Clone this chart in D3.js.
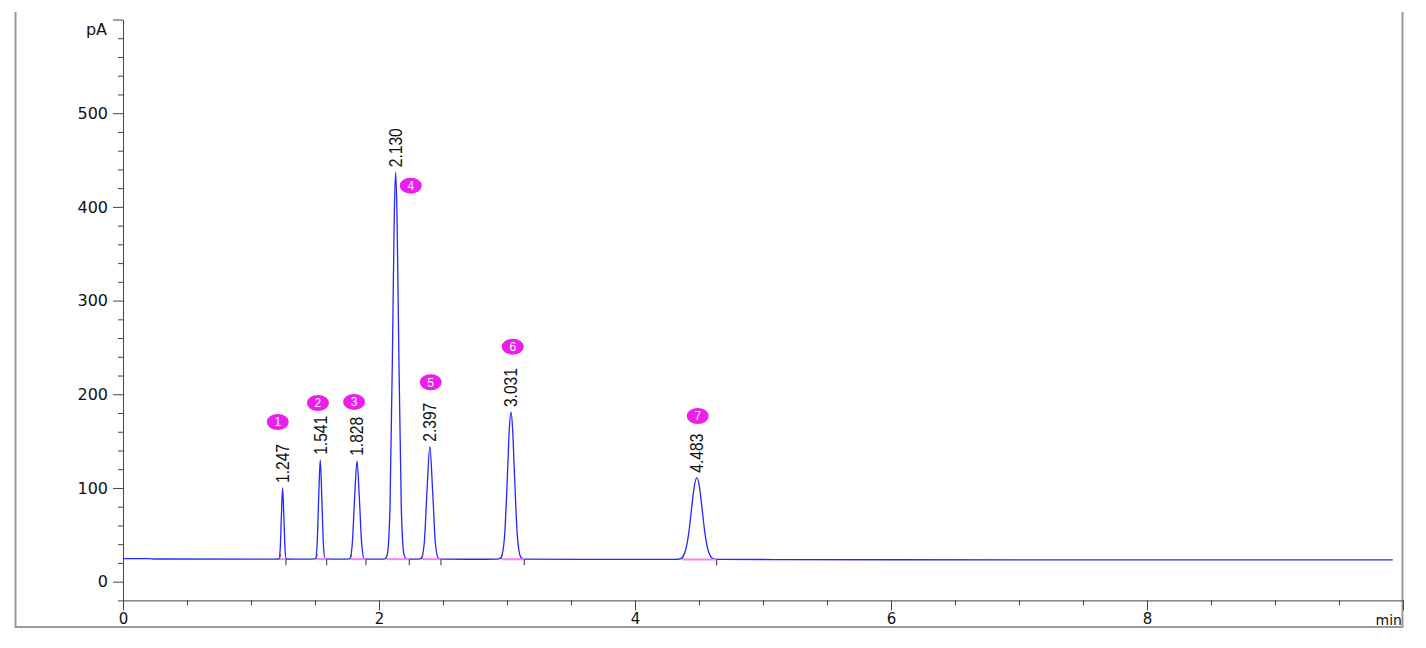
<!DOCTYPE html>
<html><head><meta charset="utf-8">
<script src="https://cdn.jsdelivr.net/npm/d3@7"></script>
<style>body{margin:0;background:#fff}svg{display:block}</style>
</head><body>
<svg id="c" width="1426" height="648"></svg>
<script>
// ---- data ----
const traceTimes = [0,0.2,0.25,1.15,
  1.2185,1.228,1.2375,1.247,1.2565,1.266,1.2755,1.40,
  1.5035,1.516,1.5285,1.541,1.5535,1.566,1.5785,1.70,
  1.771,1.790,1.809,1.828,1.847,1.866,1.885,1.95,
  2.042,2.064,2.086,2.108,2.119,2.130,2.141,2.152,2.174,2.196,2.218,
  2.309,2.331,2.353,2.375,2.397,2.419,2.441,2.463,2.485,2.70,
  2.927,2.953,2.979,3.005,3.018,3.031,3.044,3.057,3.083,3.109,3.135,3.6,
  4.315,4.357,4.378,4.399,4.42,4.441,4.462,4.483,4.504,4.525,4.546,4.567,4.588,4.609,4.651,6.0,9.92];
const traceValues = [24.6,24.6,24.2,24.0,
  24.2,34.3,70.1,100,70.1,34.3,24.2,24.0,
  24.4,38.3,88.3,130,88.3,38.3,24.4,24.0,
  24.4,38.2,87.7,129,87.7,38.2,24.4,24.0,
  24.1,28.6,79.9,274.5,388.5,437,388.5,274.5,79.9,28.6,24.1,
  24.1,25.3,40.2,96.8,144,96.8,40.2,25.3,24.1,23.9,
  24.0,25.7,45.1,119.1,162.6,181,162.6,119.1,45.1,25.7,24.0,23.7,
  23.8,24.7,27.5,35.5,52.0,76.6,100.7,111,100.7,76.6,52.0,35.5,27.5,24.7,23.8,23.4,23.2];

const peakNumbers = [1,2,3,4,5,6,7];
const peakTimes   = [1.247,1.541,1.828,2.130,2.397,3.031,4.483];
const peakApex    = [100,130,129,437,144,181,111];
const peakLabels  = ["1.247","1.541","1.828","2.130","2.397","3.031","4.483"];
const peakStarts  = [1.227,1.513,1.781,2.060,2.338,2.958,4.373];
const peakEnds    = [1.273,1.591,1.898,2.237,2.484,3.135,4.638];
const peakBase    = [24.0,24.0,24.0,24.0,24.0,23.9,23.7];
const badgeTimes  = [1.209,1.523,1.805,2.248,2.404,3.045,4.490];
const badgeLevels = [170.4,190.7,191.8,422.6,212.8,250.8,176.8];

const yMajorTicks = [0,100,200,300,400,500,600];
const xMajorTicks = [0,2,4,6,8,10];

// ---- drawing ----
const svg = d3.select("#c");
const x = d3.scaleLinear().domain([0,10]).range([123,1403]);
const y = d3.scaleLinear().domain([-20,600]).range([600.4,19.5]);

// frame
svg.append("path").attr("d","M15.5,12 V627 H1402.5 V12")
  .attr("fill","none").attr("stroke","#999").attr("stroke-width",2);

const axisColor = "#444";
// y axis minor
const yMinor = d3.range(-20,600,20).filter(v=>v%100!==0);
svg.append("g").attr("transform","translate(123,0)")
  .call(d3.axisLeft(y).tickValues(yMinor).tickSize(5).tickSizeOuter(0).tickFormat(""))
  .call(g=>{g.select(".domain").remove();g.selectAll("line").attr("stroke",axisColor);});
// y axis major
svg.append("g").attr("transform","translate(123,0)")
  .call(d3.axisLeft(y).tickValues(yMajorTicks).tickSize(10).tickSizeOuter(0).tickPadding(5)
    .tickFormat(v=>v===600?"":v))
  .call(g=>{g.select(".domain").attr("stroke",axisColor);g.selectAll("line").attr("stroke",axisColor);
    g.selectAll("text").attr("font-family","DejaVu Sans").attr("font-size",16).attr("fill","#111");});
// x axis minor (every 0.5 min)
const xMinor = d3.range(0.5,10,0.5).filter(v=>v%2!==0);
svg.append("g").attr("transform","translate(0,600.4)")
  .call(d3.axisBottom(x).tickValues(xMinor).tickSize(5).tickSizeOuter(0).tickFormat(""))
  .call(g=>{g.select(".domain").remove();g.selectAll("line").attr("stroke",axisColor);});
// x axis major
svg.append("g").attr("transform","translate(0,600.4)")
  .call(d3.axisBottom(x).tickValues(xMajorTicks).tickSize(10).tickSizeOuter(0).tickPadding(3)
    .tickFormat(v=>v===10?"":v))
  .call(g=>{g.select(".domain").attr("stroke",axisColor);g.selectAll("line").attr("stroke",axisColor);
    g.selectAll("text").attr("font-family","DejaVu Sans").attr("font-size",15).attr("fill","#111");});

// unit labels
svg.append("text").attr("x",107).attr("y",29).attr("dy","0.35em").attr("text-anchor","end")
  .attr("font-family","DejaVu Sans").attr("font-size",16).attr("fill","#111").text("pA");
svg.append("text").attr("x",1402).attr("y",620).attr("dy","0.35em").attr("text-anchor","end")
  .attr("font-family","DejaVu Sans").attr("font-size",14).attr("fill","#111").text("min");

// trace
const pts = traceTimes.map((t,i)=>[t,traceValues[i]]);
svg.append("path").datum(pts)
  .attr("d",d3.line().x(d=>x(d[0])).y(d=>y(d[1])).curve(d3.curveMonotoneX))
  .attr("fill","none").attr("stroke","#2626ff").attr("stroke-width",1.3);

// integration baselines and markers
const peaks = peakNumbers.map((n,i)=>({n,t:peakTimes[i],a:peakApex[i],lab:peakLabels[i],
  s:peakStarts[i],e:peakEnds[i],b:peakBase[i],bt:badgeTimes[i],bl:badgeLevels[i]}));
svg.append("g").selectAll("line").data(peaks).join("line")
  .attr("x1",d=>x(d.s)).attr("x2",d=>x(d.e)).attr("y1",d=>y(d.b)).attr("y2",d=>y(d.b))
  .attr("stroke","#ff7cff").attr("stroke-width",2);
svg.append("g").selectAll("line").data(peaks).join("line")
  .attr("x1",d=>x(d.s)-1).attr("x2",d=>x(d.s)+0.8).attr("y1",d=>y(d.b)).attr("y2",d=>y(d.b)-5)
  .attr("stroke","#555").attr("stroke-width",1.2);
svg.append("g").selectAll("line").data(peaks).join("line")
  .attr("x1",d=>x(d.e)).attr("x2",d=>x(d.e)).attr("y1",d=>y(d.b)).attr("y2",d=>y(d.b)+6)
  .attr("stroke","#555").attr("stroke-width",1.2);

// peak labels
svg.append("g").selectAll("text").data(peaks).join("text")
  .attr("transform",d=>`translate(${x(d.t)+6.5},${y(d.a)-5}) rotate(-90)`)
  .attr("font-family","Liberation Sans, Arial, sans-serif").attr("font-size",18)
  .attr("textLength",39).attr("lengthAdjust","spacingAndGlyphs")
  .attr("fill","#111").text(d=>d.lab);

// badges
const bg = svg.append("g").selectAll("g").data(peaks).join("g")
  .attr("transform",d=>`translate(${x(d.bt)},${y(d.bl)})`);
bg.append("ellipse").attr("rx",11).attr("ry",8).attr("fill","#ec1eec");
bg.append("text").attr("text-anchor","middle").attr("dy","0.36em")
  .attr("font-family","Liberation Sans, Arial, sans-serif").attr("font-size",12)
  .attr("fill","#fff").text(d=>d.n);
</script>
</body></html>
